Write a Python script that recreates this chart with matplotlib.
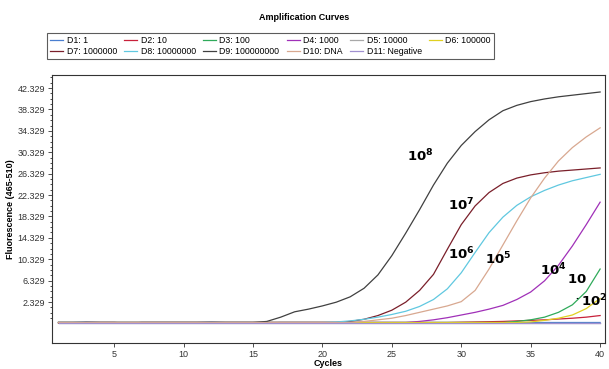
import matplotlib.pyplot as plt
from matplotlib.ticker import FixedLocator

plt.rcParams['font.family'] = ['Liberation Sans', 'DejaVu Sans']

cycles = list(range(1, 41))

# fluorescence per sample
d1 = [-1.5, -1.5, -1.4, -1.5, -1.5, -1.6, -1.5, -1.5, -1.5, -1.5, -1.5, -1.4, -1.5, -1.5, -1.5, -1.6, -1.5, -1.5, -1.5, -1.5,
      -1.5, -1.5, -1.5, -1.5, -1.5, -1.5, -1.5, -1.5, -1.5, -1.5, -1.5, -1.5, -1.5, -1.5, -1.5, -1.5, -1.5, -1.5, -1.5, -1.5]
d2 = [-1.6, -1.6, -1.5, -1.5, -1.5, -1.6, -1.5, -1.5, -1.5, -1.5, -1.5, -1.5, -1.5, -1.5, -1.5, -1.5, -1.5, -1.5, -1.5, -1.5,
      -1.5, -1.5, -1.5, -1.5, -1.5, -1.5, -1.5, -1.5, -1.5, -1.45, -1.4, -1.35, -1.3, -1.2, -1.1, -1.0, -0.85, -0.7, -0.5, -0.2]
d3 = [-1.5] * 33 + [-1.3, -1.0, -0.5, 0.4, 1.8, 4.3, 8.5]
d4 = [-1.5] * 26 + [-1.3, -1.0, -0.6, -0.1, 0.4, 1.0, 1.7, 2.8, 4.2, 6.3, 9.2, 12.8, 16.8, 21.0]
d5 = [-1.5] * 40
d6 = [-1.5] * 34 + [-1.4, -1.1, -0.7, -0.1, 1.1, 3.0]
d7 = [-1.5] * 21 + [-1.3, -0.9, -0.2, 0.8, 2.3, 4.5, 7.5, 12.2, 16.8, 20.3, 22.8, 24.5, 25.5, 26.1, 26.5, 26.8, 27.0, 27.2, 27.4]
d8 = [-1.5] * 20 + [-1.4, -1.2, -0.9, -0.5, 0.0, 0.6, 1.5, 2.8, 4.8, 7.8, 11.6, 15.3, 18.2, 20.4, 22.0, 23.2, 24.2, 25.0, 25.6, 26.2]
d9 = [-1.5] * 15 + [-1.3, -0.5, 0.5, 1.0, 1.6, 2.3, 3.3, 4.9, 7.4, 11.0, 15.2, 19.6, 24.2, 28.3, 31.6, 34.2, 36.4, 38.1, 39.1, 39.8,
                    40.3, 40.7, 41.0, 41.3, 41.6]
d10 = [-1.5] * 22 + [-1.3, -1.0, -0.7, -0.2, 0.4, 1.0, 1.6, 2.4, 4.5, 8.5, 13.0, 17.5, 21.8, 25.5, 28.7, 31.2, 33.2, 34.9]
d11 = [-1.55] * 40

names = ['D1: 1', 'D2: 10', 'D3: 100', 'D4: 1000', 'D5: 10000', 'D6: 100000',
         'D7: 1000000', 'D8: 10000000', 'D9: 100000000', 'D10: DNA', 'D11: Negative']
series = [d1, d2, d3, d4, d5, d6, d7, d8, d9, d10, d11]
colors = ['#4a7fd0', '#c8203a', '#2faa5a', '#a030b8', '#a8a8a8', '#e0d020',
          '#7a1f2a', '#60c8e0', '#404040', '#d8a890', '#a090d0']

yticks = [2.329, 6.329, 10.329, 14.329, 18.329, 22.329, 26.329, 30.329, 34.329, 38.329, 42.329]
xticks = [5, 10, 15, 20, 25, 30, 35, 40]

# annotations: exponent, cycle, fluorescence
labels = [('8', 26.1, 29.6), ('7', 29.05, 20.5), ('6', 29.05, 11.3), ('5', 31.7, 10.3),
          ('4', 35.7, 8.3), ('', 37.6, 6.6), ('2', 38.6, 2.5)]

fig = plt.figure(figsize=(6.09, 3.69), dpi=100)
ax = fig.add_axes([0.0854, 0.0705, 0.908, 0.726])

lines = []
for name, ys, c in zip(names, series, colors):
    ln, = ax.plot(cycles, ys, color=c, lw=0.9, label=name)
    lines.append(ln)

for sup, x, y in labels:
    txt = r'$\mathbf{10^{%s}}$' % sup if sup else r'$\mathbf{10}$'
    ax.text(x, y, txt, fontsize=9.5, ha='left', va='center', color='black')
ax.text(38.3, 3.4, '.', fontsize=8, fontweight='bold', ha='center', va='center')

ax.set_xlim(0.53, 40.35)
ax.set_ylim(-5.33, 44.76)
ax.set_xticks(xticks)
ax.yaxis.set_major_locator(FixedLocator(yticks))
ax.set_yticklabels(['%.3f' % v for v in yticks])
ax.yaxis.set_minor_locator(FixedLocator([v + k for v in [-1.671] + yticks for k in (1, 2, 3)]))
ax.tick_params(axis='both', labelsize=6.5, length=3, width=0.6, colors='#333333', pad=2)
ax.tick_params(axis='y', which='minor', length=1.5, width=0.5)
for s in ax.spines.values():
    s.set_linewidth(0.8)
    s.set_color('#333333')

ax.set_xlabel('Cycles', fontsize=6.5, fontweight='bold', labelpad=0)
ax.set_ylabel('Fluorescence (465-510)', fontsize=6.5, fontweight='bold', labelpad=2)

fig.text(0.5, 0.953, 'Amplification Curves', fontsize=6.5, fontweight='bold', ha='center', va='center')

# legend fills row by row like the reference
order = [0, 6, 1, 7, 2, 8, 3, 9, 4, 10, 5]
leg = fig.legend([lines[i] for i in order], [names[i] for i in order],
                 loc='center', bbox_to_anchor=(0.0706, 0.832, 0.747, 0.0867), mode='expand', ncol=6,
                 fontsize=6.3, handlelength=1.5, handletextpad=0.4, borderpad=0.3, labelspacing=0.3,
                 columnspacing=0.5, frameon=True, fancybox=False, edgecolor='#333333')
leg.get_frame().set_linewidth(0.8)

plt.savefig('out.png', dpi=100)
